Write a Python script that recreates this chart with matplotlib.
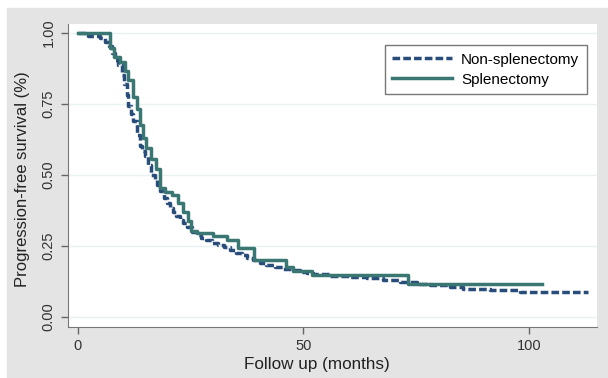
import matplotlib
matplotlib.use("Agg")
import matplotlib.pyplot as plt
from matplotlib.patches import Rectangle

plt.rcParams['font.family'] = ['Liberation Sans', 'DejaVu Sans']

# Kaplan-Meier steps (months, survival)
t_splen = [0, 7.1, 8.1, 9.3, 10.4, 11.1, 12.2, 13.0, 13.8, 14.4, 15.2, 16.3, 17.3,
           18.2, 19.3, 20.9, 22.2, 23.4, 24.4, 25.1, 26.4, 30.0, 33.0, 35.4,
           39.0, 46.2, 47.7, 52.0, 73.2, 103.0]
s_splen = [1.0, 0.946, 0.915, 0.897, 0.865, 0.835, 0.774, 0.734, 0.677, 0.63,
           0.594, 0.558, 0.522, 0.455, 0.44, 0.43, 0.40, 0.37, 0.338, 0.303,
           0.296, 0.284, 0.271, 0.244, 0.20, 0.176, 0.163, 0.147, 0.116, 0.116]

t_non = [0, 2.3, 4.9, 6.0, 7.0, 7.6, 8.2, 8.9, 9.7, 10.3, 10.8, 11.2, 11.8, 12.3,
         13.0, 13.7, 14.3, 14.9, 15.6, 16.3, 17.0, 17.5, 18.2, 19.0, 19.7, 20.4,
         21.1, 21.8, 22.6, 23.3, 24.1, 25.2, 26.3, 27.4, 28.5, 29.8, 31.1, 32.4,
         33.7, 35.0, 36.3, 37.6, 38.9, 40.3, 41.8, 43.6, 45.5, 47.3, 49.2, 50.7,
         52.2, 56.0, 60.3, 64.0, 67.7, 71.4, 75.1, 78.0, 82.5, 85.4, 91.4, 98.0,
         113.0]
s_non = [1.0, 0.99, 0.982, 0.97, 0.955, 0.93, 0.906, 0.888, 0.853, 0.82, 0.783,
         0.742, 0.715, 0.689, 0.642, 0.601, 0.585, 0.566, 0.536, 0.501, 0.485,
         0.466, 0.443, 0.42, 0.40, 0.385, 0.371, 0.357, 0.342, 0.33, 0.318, 0.30,
         0.289, 0.28, 0.271, 0.262, 0.254, 0.245, 0.236, 0.227, 0.218, 0.209,
         0.20, 0.191, 0.183, 0.177, 0.171, 0.165, 0.16, 0.155, 0.151, 0.146,
         0.142, 0.136, 0.13, 0.124, 0.118, 0.112, 0.107, 0.10, 0.095, 0.089,
         0.089]

xticks = [0, 50, 100]
yticks = [0.0, 0.25, 0.5, 0.75, 1.0]

fig = plt.figure(figsize=(6.08, 3.78), dpi=100)
# grey panel behind everything (white strip left and top)
fig.patches.append(Rectangle((7 / 608, 0), 1 - 7 / 608, 1 - 8 / 378,
                             transform=fig.transFigure, color='#e4e4e4', zorder=-10))

ax = fig.add_axes([68 / 608, 1 - 327 / 378, 529 / 608, 303 / 378])
ax.set_facecolor('white')

ax.plot(t_non, s_non, drawstyle='steps-post', color='#294d7b', lw=2.5,
        linestyle=(0, (2.2, 0.9)), label='Non-splenectomy', zorder=3)
ax.plot(t_splen, s_splen, drawstyle='steps-post', color='#3a7672', lw=2.5,
        label='Splenectomy', zorder=4)

ax.set_xlim(-2.2, 115.1)
ax.set_ylim(-0.035, 1.032)
ax.set_xticks(xticks)
ax.set_yticks(yticks)
ax.set_yticklabels(['%.2f' % v for v in yticks], rotation=90, va='center')
ax.grid(axis='y', color='#e9f2f3', lw=1)
ax.set_axisbelow(True)

for side in ['top', 'right']:
    ax.spines[side].set_visible(False)
for side in ['left', 'bottom']:
    ax.spines[side].set_color('#777777')
ax.tick_params(colors='#666666', labelcolor='#333333', length=5, width=1,
               labelsize=10.5, pad=4)

ax.set_xlabel('Follow up (months)', fontsize=12.3, color='#222222')
ax.xaxis.set_label_coords(0.471, -0.1)
ax.set_ylabel('Progression-free survival (%)', fontsize=12, color='#222222')
ax.yaxis.set_label_coords(-0.072, 0.488)

leg = ax.legend(loc='upper right', bbox_to_anchor=(0.981, 0.931), fontsize=11,
                frameon=True, fancybox=False, borderaxespad=0, handlelength=3.9,
                handletextpad=0.6, labelspacing=0.4, borderpad=0.5)
leg.get_frame().set_edgecolor('#555555')
leg.get_frame().set_linewidth(1)

fig.savefig('out.png', dpi=100)
